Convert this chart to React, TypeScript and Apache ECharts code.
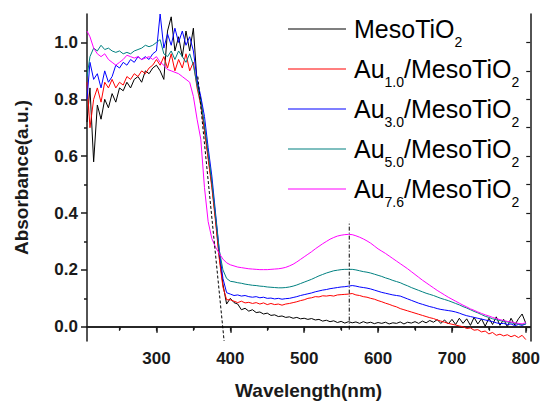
import React, { useEffect, useRef } from 'react';
import * as echarts from 'echarts';

const FONT = '"Liberation Sans", Arial, Helvetica, sans-serif';

const wavelength = [
  206, 210, 215, 220, 225, 230, 235, 240, 245, 250,
  255, 260, 265, 270, 275, 280, 285, 290, 295, 300,
  305, 310, 315, 320, 325, 330, 335, 340, 345, 350,
  355, 360, 365, 370, 375, 380, 385, 390, 395, 400,
  405, 410, 415, 420, 425, 430, 435, 440, 445, 450,
  455, 460, 465, 470, 475, 480, 485, 490, 495, 500,
  505, 510, 515, 520, 525, 530, 535, 540, 545, 550,
  555, 560, 565, 570, 575, 580, 585, 590, 595, 600,
  605, 610, 615, 620, 625, 630, 635, 640, 645, 650,
  655, 660, 665, 670, 675, 680, 685, 690, 695, 700,
  705, 710, 715, 720, 725, 730, 735, 740, 745, 750,
  755, 760, 765, 770, 775, 780, 785, 790, 795, 800,
];

const mesoTiO2 = [
  0.72, 0.84, 0.58, 0.78, 0.73, 0.80, 0.77, 0.82, 0.79, 0.84,
  0.83, 0.86, 0.84, 0.87, 0.88, 0.86, 0.90, 0.89, 0.91, 0.92,
  0.90, 0.87, 1.04, 1.09, 0.97, 1.02, 0.95, 1.04, 0.97, 1.05,
  0.86, 0.80, 0.70, 0.60, 0.50, 0.38, 0.25, 0.15, 0.08, 0.10,
  0.085, 0.08, 0.06, 0.065, 0.055, 0.06, 0.05, 0.052, 0.045, 0.048,
  0.04, 0.042, 0.036, 0.038, 0.033, 0.035, 0.03, 0.033, 0.028, 0.03,
  0.026, 0.029, 0.024, 0.026, 0.02, 0.023, 0.018, 0.021, 0.015, 0.019,
  0.013, 0.018, 0.014, 0.017, 0.012, 0.018, 0.013, 0.016, 0.011, 0.015,
  0.012, 0.016, 0.01, 0.014, 0.012, 0.017, 0.01, 0.016, 0.013, 0.018,
  0.012, 0.02, 0.014, 0.022, 0.016, 0.025, 0.012, 0.024, 0.01, 0.026,
  0.008, 0.03, 0.012, 0.028, 0.005, 0.033, 0.01, 0.028, 0.002, 0.03,
  0.008, 0.035, 0.005, 0.026, 0.0, 0.03, 0.006, 0.028, 0.045, 0.012,
];

const au10 = [
  0.86, 0.70, 0.80, 0.84, 0.79, 0.86, 0.84, 0.87, 0.84, 0.86,
  0.85, 0.88, 0.87, 0.89, 0.88, 0.90, 0.89, 0.91, 0.92, 0.94,
  0.92, 0.95, 0.91, 0.96, 0.90, 0.94, 0.91, 0.96, 0.90, 0.93,
  0.84, 0.78, 0.69, 0.59, 0.49, 0.37, 0.24, 0.14, 0.095, 0.095,
  0.09, 0.085, 0.09, 0.084, 0.086, 0.082, 0.085, 0.08, 0.084, 0.078,
  0.082, 0.078, 0.08, 0.076, 0.08, 0.082, 0.085, 0.088, 0.092, 0.095,
  0.1, 0.102, 0.106, 0.105, 0.109, 0.108, 0.11, 0.108, 0.112, 0.113,
  0.114, 0.115, 0.117, 0.112, 0.11, 0.106, 0.104, 0.1, 0.097, 0.092,
  0.088, 0.083, 0.079, 0.074, 0.07, 0.064, 0.06, 0.056, 0.052, 0.048,
  0.044, 0.04, 0.036, 0.032, 0.029, 0.024, 0.02, 0.016, 0.012, 0.009,
  0.006, 0.003, 0.0, -0.006, -0.004, -0.012, -0.01, -0.018, -0.015, -0.025,
  -0.02, -0.03, -0.026, -0.032, -0.028, -0.035, -0.03, -0.038, -0.03, -0.045,
];

const au30 = [
  0.80, 0.93, 0.87, 0.89, 0.84, 0.90, 0.86, 0.88, 0.92, 0.91,
  0.93, 0.92, 0.94, 0.93, 0.95, 0.94, 0.95, 0.94, 0.96, 0.97,
  1.10, 0.98, 1.03, 0.99, 1.05, 1.00, 1.04, 0.99, 1.02, 0.97,
  0.87, 0.81, 0.74, 0.63, 0.53, 0.40, 0.27, 0.17, 0.12, 0.115,
  0.11, 0.112, 0.108, 0.11, 0.106, 0.104, 0.106, 0.102, 0.104, 0.1,
  0.101, 0.098, 0.1, 0.097, 0.099, 0.1, 0.103, 0.106, 0.11, 0.113,
  0.116, 0.119, 0.123, 0.126, 0.129, 0.131, 0.134, 0.136, 0.138, 0.14,
  0.141, 0.143, 0.145, 0.143, 0.14, 0.138, 0.136, 0.133, 0.129, 0.125,
  0.121, 0.118, 0.115, 0.112, 0.11, 0.108, 0.103, 0.098, 0.093, 0.088,
  0.083, 0.079, 0.075, 0.071, 0.068, 0.064, 0.061, 0.059, 0.057, 0.055,
  0.052, 0.048, 0.043, 0.039, 0.036, 0.033, 0.03, 0.027, 0.024, 0.021,
  0.018, 0.014, 0.011, 0.012, 0.008, 0.01, 0.004, 0.008, 0.005, 0.01,
];

const au50 = [
  0.88, 0.95, 0.98, 0.97, 0.99, 0.975, 0.98, 0.97, 0.965, 0.97,
  0.96, 0.965, 0.96, 0.97, 0.975, 0.98, 0.99, 0.985, 0.99, 1.0,
  1.01, 0.96, 0.95, 0.97, 0.94, 0.97, 0.95, 0.93, 0.96, 0.92,
  0.85, 0.79, 0.71, 0.61, 0.51, 0.39, 0.27, 0.2, 0.17, 0.16,
  0.158, 0.155, 0.153, 0.15, 0.148, 0.146, 0.145, 0.143, 0.142, 0.14,
  0.139, 0.138, 0.137, 0.137, 0.138, 0.14, 0.143, 0.147, 0.152, 0.157,
  0.162, 0.167, 0.173, 0.179, 0.184, 0.189, 0.193, 0.197, 0.199, 0.201,
  0.202, 0.202, 0.202, 0.2, 0.197, 0.194, 0.192, 0.189, 0.185, 0.181,
  0.177, 0.172, 0.168, 0.163, 0.159, 0.155, 0.149, 0.144, 0.138, 0.133,
  0.128, 0.123, 0.118, 0.114, 0.11, 0.105, 0.1, 0.096, 0.092, 0.087,
  0.082, 0.077, 0.071, 0.066, 0.06, 0.054, 0.049, 0.043, 0.037, 0.033,
  0.028, 0.025, 0.022, 0.019, 0.017, 0.014, 0.012, 0.01, 0.008, 0.01,
];

const au76 = [
  1.04, 1.02, 0.98, 0.96, 0.95, 0.96, 0.94, 0.93, 0.92, 0.93,
  0.94, 0.955, 0.95, 0.945, 0.95, 0.94, 0.945, 0.95, 0.94, 0.95,
  0.93, 0.92, 0.905, 0.9, 0.895, 0.89, 0.88, 0.87, 0.86, 0.81,
  0.73, 0.66, 0.49, 0.37, 0.31, 0.28, 0.258, 0.238, 0.225, 0.218,
  0.214, 0.21, 0.208, 0.206, 0.204, 0.203, 0.202, 0.201, 0.201, 0.201,
  0.202, 0.203, 0.204, 0.206, 0.209, 0.214, 0.22, 0.228, 0.237, 0.246,
  0.255, 0.264, 0.274, 0.283, 0.292, 0.3, 0.308, 0.314, 0.319, 0.322,
  0.324, 0.325, 0.324, 0.32, 0.315, 0.309, 0.302, 0.294, 0.284, 0.274,
  0.266, 0.258, 0.249, 0.24, 0.231, 0.222, 0.213, 0.204, 0.194, 0.184,
  0.174, 0.164, 0.155, 0.146, 0.137, 0.128, 0.12, 0.112, 0.104, 0.097,
  0.09, 0.083, 0.076, 0.07, 0.063, 0.058, 0.052, 0.047, 0.042, 0.038,
  0.033, 0.029, 0.025, 0.022, 0.019, 0.017, 0.014, 0.012, 0.01, 0.015,
];

const seriesNames = ['MesoTiO2', 'Au1.0/MesoTiO2', 'Au3.0/MesoTiO2', 'Au5.0/MesoTiO2', 'Au7.6/MesoTiO2'];
const seriesLegend = ['MesoTiO{s|2}', 'Au{s|1.0}/MesoTiO{s|2}', 'Au{s|3.0}/MesoTiO{s|2}', 'Au{s|5.0}/MesoTiO{s|2}', 'Au{s|7.6}/MesoTiO{s|2}'];
const seriesColors = ['#000000', '#ff0000', '#0000ff', '#008080', '#ff00ff'];
const seriesValues = [mesoTiO2, au10, au30, au50, au76];

const xLabelTicks = [300, 400, 500, 600, 700, 800];
const xMinorTicks = [250, 350, 450, 550, 650, 750];
const xTopTicks = [250, 300, 350, 400, 450, 500, 550, 600, 650, 700, 750, 800];
const yLabelTicks = [0, 0.2, 0.4, 0.6, 0.8, 1.0];
const yMinorTicks = [0.1, 0.3, 0.5, 0.7, 0.9];
const yRightTicks = [0, 0.1, 0.2, 0.3, 0.4, 0.5, 0.6, 0.7, 0.8, 0.9, 1.0];

const edgeTangent = [[356, 0.88], [391.6, -0.05]];
const peakMarker = [[561, -0.01], [561, 0.37]];

export default function App() {
  const ref = useRef<HTMLDivElement>(null);
  useEffect(() => {
    const chart = echarts.init(ref.current!, null, { renderer: 'svg' });
    const axisLine = { show: true, lineStyle: { color: '#1a1a1a', width: 1.5 } };
    const xBase = { type: 'value', min: 206, max: 806, splitLine: { show: false } };
    const yBase = { type: 'value', min: -0.05, max: 1.1, splitLine: { show: false } };
    const lineSeries = seriesNames.map((name, k) => ({
      name,
      type: 'line',
      data: wavelength.map((w, i) => [w, seriesValues[k][i]]),
      symbol: 'none',
      lineStyle: { color: seriesColors[k], width: 1 },
      itemStyle: { color: seriesColors[k] },
      xAxisIndex: 0,
      yAxisIndex: 0,
      z: 3 + k,
    }));
    chart.setOption({
      animation: false,
      backgroundColor: '#ffffff',
      grid: { left: 87, right: 9, top: 14, bottom: 59 },
      legend: {
        data: seriesNames,
        orient: 'vertical',
        left: 288,
        top: 9,
        padding: 0,
        itemGap: 0,
        itemWidth: 58,
        itemHeight: 1.2,
        icon: 'rect',
        selectedMode: false,
        formatter: (name: string) => seriesLegend[seriesNames.indexOf(name)],
        textStyle: {
          fontFamily: FONT,
          fontSize: 25,
          color: '#000',
          lineHeight: 40,
          padding: [0, 0, 0, 3],
          rich: {
            s: { fontFamily: FONT, fontSize: 14, lineHeight: 14, verticalAlign: 'bottom', color: '#000' },
          },
        },
      },
      xAxis: [
        {
          ...xBase,
          position: 'bottom',
          axisLine,
          axisTick: { show: true, customValues: xLabelTicks, length: 6, lineStyle: { color: '#1a1a1a', width: 1.5 } },
          axisLabel: { show: true, customValues: xLabelTicks, margin: 9, fontFamily: FONT, fontWeight: 'bold', fontSize: 17, color: '#1a1a1a' },
          name: 'Wavelength(nm)',
          nameLocation: 'middle',
          nameGap: 40,
          nameTextStyle: { fontFamily: FONT, fontWeight: 'bold', fontSize: 19, color: '#1a1a1a' },
        },
        {
          ...xBase,
          position: 'bottom',
          axisLine: { show: false },
          axisTick: { show: true, customValues: xMinorTicks, length: 3, lineStyle: { color: '#1a1a1a', width: 1.5 } },
          axisLabel: { show: false },
        },
        {
          ...xBase,
          position: 'top',
          axisLine,
          axisTick: { show: true, inside: true, customValues: xTopTicks, length: 4, lineStyle: { color: '#1a1a1a', width: 1.2 } },
          axisLabel: { show: false },
        },
      ],
      yAxis: [
        {
          ...yBase,
          position: 'left',
          axisLine,
          axisTick: { show: true, customValues: yLabelTicks, length: 6, lineStyle: { color: '#1a1a1a', width: 1.5 } },
          axisLabel: {
            show: true,
            customValues: yLabelTicks,
            margin: 9,
            formatter: (v: number) => v.toFixed(1),
            fontFamily: FONT,
            fontWeight: 'bold',
            fontSize: 17,
            color: '#1a1a1a',
          },
          name: 'Absorbance(a.u.)',
          nameLocation: 'middle',
          nameGap: 56,
          nameTextStyle: { fontFamily: FONT, fontWeight: 'bold', fontSize: 19, color: '#1a1a1a' },
        },
        {
          ...yBase,
          position: 'left',
          axisLine: { show: false },
          axisTick: { show: true, customValues: yMinorTicks, length: 3, lineStyle: { color: '#1a1a1a', width: 1.5 } },
          axisLabel: { show: false },
        },
        {
          ...yBase,
          position: 'right',
          axisLine,
          axisTick: { show: true, inside: true, customValues: yRightTicks, length: 4, lineStyle: { color: '#1a1a1a', width: 1.2 } },
          axisLabel: { show: false },
        },
      ],
      series: [
        ...lineSeries,
        {
          name: 'edge',
          type: 'line',
          data: edgeTangent,
          symbol: 'none',
          silent: true,
          lineStyle: { color: '#000', width: 1, type: [3, 2] },
          z: 10,
        },
        {
          name: 'peak',
          type: 'line',
          data: peakMarker,
          symbol: 'none',
          silent: true,
          lineStyle: { color: '#000', width: 1, type: [4, 2, 1, 2] },
          z: 10,
        },
      ],
    });
    return () => chart.dispose();
  }, []);
  return <div ref={ref} style={{ position: 'fixed', left: 0, top: 0, width: 543, height: 405 }} />;
}
